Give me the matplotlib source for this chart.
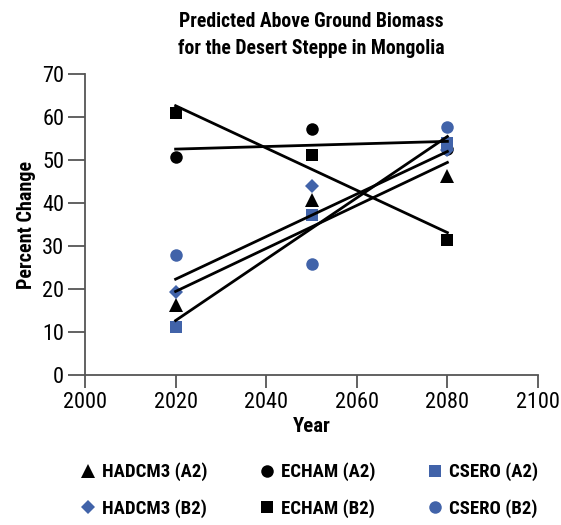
import numpy as np
import matplotlib
matplotlib.use('Agg')
import matplotlib.pyplot as plt

plt.rcParams['font.family'] = ['Roboto Condensed', 'DejaVu Sans Condensed',
                               'Liberation Sans Narrow', 'Roboto', 'DejaVu Sans']

years = [2020, 2050, 2080]

hadcm3_a2 = [16.3, 40.7, 46.3]
echam_a2 = [50.7, 57.1, 52.5]
csero_a2 = [11.1, 37.2, 53.9]
hadcm3_b2 = [19.2, 43.9, 52.3]
echam_b2 = [61.0, 51.1, 31.5]
csero_b2 = [27.9, 25.9, 57.6]

BLUE = '#4163a9'
series = [
    ('HADCM3 (A2)', hadcm3_a2, '^', 'black', 10.5, True),
    ('HADCM3 (B2)', hadcm3_b2, 'D', BLUE, 7, False),
    ('ECHAM (A2)', echam_a2, 'o', 'black', 9, True),
    ('ECHAM (B2)', echam_b2, 's', 'black', 8.5, True),
    ('CSERO (A2)', csero_a2, 's', BLUE, 8.5, True),
    ('CSERO (B2)', csero_b2, 'o', BLUE, 9, True),
]

fig = plt.figure(figsize=(5.61, 5.25), dpi=100)
ax = fig.add_axes([85 / 561, 1 - 375 / 525, (538 - 85) / 561, (375 - 74) / 525])

x = np.array(years)
handles = []
for name, vals, mk, col, ms, trend in series:
    # ECHAM (A2) sits underneath the others (hidden at 2080 in the original)
    z = 2 if name == 'ECHAM (A2)' else 3
    h, = ax.plot(years, vals, linestyle='none', marker=mk, color=col,
                 markersize=ms, markeredgewidth=0, label=name, zorder=z)
    handles.append(h)
    # linear trend line
    if trend:
        m, b = np.polyfit(x, vals, 1)
        ax.plot(x, m * x + b, color='black', lw=2.0, zorder=4)

ax.set_xlim(2000, 2100)
ax.set_ylim(0, 70)
ax.set_xticks(range(2000, 2101, 20))
ax.set_yticks(range(0, 71, 10))
for s in ['top', 'right']:
    ax.spines[s].set_visible(False)
for s in ['left', 'bottom']:
    ax.spines[s].set_color('#555555')
    ax.spines[s].set_linewidth(1.3)
ax.tick_params(direction='out', width=1.3, color='#555555',
               labelsize=16, labelcolor='black', pad=3)
ax.tick_params(axis='x', length=9)
ax.tick_params(axis='y', length=12)

ax.set_xlabel('Year', fontsize=15, fontweight='bold', labelpad=3)
ax.set_ylabel('Percent Change', fontsize=14.5, fontweight='bold', labelpad=4)
fig.text(0.555, 0.978, 'Predicted Above Ground Biomass\nfor the Desert Steppe in Mongolia',
         ha='center', va='top', fontsize=14.2, fontweight='bold', linespacing=1.55)

leg = fig.legend(handles=handles, ncol=3, frameon=False, loc='center',
                 bbox_to_anchor=(0.548, 0.066), prop={'weight': 'bold', 'size': 13.5},
                 handletextpad=0.15, columnspacing=2.55, labelspacing=0.95,
                 handlelength=1.2)

fig.savefig('out.png', dpi=100)
